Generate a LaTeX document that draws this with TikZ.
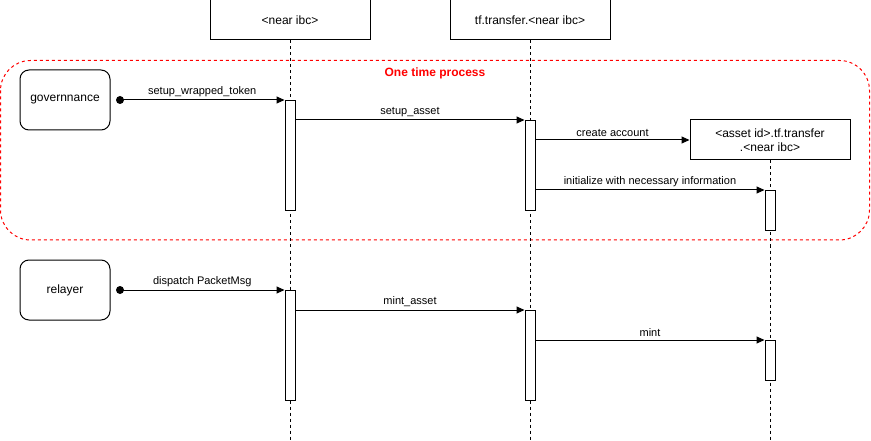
\documentclass[tikz,border=0pt]{standalone}
\usepackage{fontspec}
\setmainfont{Liberation Sans}
\usetikzlibrary{arrows.meta}
\begin{document}
\begin{tikzpicture}[x=1pt,y=-1pt,
  lifebox/.style={draw,line width=1pt,minimum width=160pt,minimum height=40pt,inner sep=0pt,font=\fontsize{12}{14}\selectfont,align=center,fill=white},
  actor/.style={draw,line width=1pt,rounded corners=9pt,minimum width=90pt,minimum height=60pt,inner sep=0pt,font=\fontsize{12}{14}\selectfont},
  bar/.style={draw,line width=1pt,fill=white,minimum width=10pt,inner sep=0pt,anchor=north},
  life/.style={line width=0.8pt,dash pattern=on 3pt off 3pt},
  msg/.style={line width=1pt,-{Triangle[length=8pt,width=7pt]}},
  lbl/.style={font=\fontsize{11}{13}\selectfont,above,inner sep=2.5pt},
  startdot/.style={circle,fill=black,minimum size=8pt,inner sep=0pt}]
\useasboundingbox (0,0) rectangle (871,441);
% group frame
\draw[red,line width=1pt,dash pattern=on 3pt off 3pt,rounded corners=30pt] (0.5,60.5) rectangle (869.5,240);
\node[red,font=\bfseries\fontsize{12}{14}\selectfont] (title) at (435,73.5) {One time process};
% lifeline heads
\node[lifebox] (nib) at (290,20) {<near ibc>};
\node[lifebox] (tft) at (530,20) {tf.transfer.<near ibc>};
\node[lifebox] (aid) at (770,140) {<asset id>.tf.transfer\\.<near ibc>};
\coordinate (nibend) at (290,441);
\coordinate (tftend) at (530,441);
\coordinate (aidend) at (770,441);
\draw[life] (nib.south) -- (nibend);
\draw[life] (tft.south) -- (tftend);
\draw[life] (aid.south) -- (aidend);
% actors
\node[actor] (gov) at (65,100) {governnance};
\node[actor] (rel) at (65,290) {relayer};
% activation bars
\node[bar,minimum height=110pt] (a1) at (290,100) {};
\node[bar,minimum height=90pt] (a2) at (530,120) {};
\node[bar,minimum height=40pt] (a3) at (770,190) {};
\node[bar,minimum height=110pt] (a4) at (290,290) {};
\node[bar,minimum height=90pt] (a5) at (530,310) {};
\node[bar,minimum height=40pt] (a6) at (770,340) {};
% start dots
\node[startdot] (d1) at (120,100) {};
\node[startdot] (d2) at (120,290) {};
% messages
\draw[msg] (d1.center) -- node[lbl]{setup\_wrapped\_token} (a1.north west);
\draw[msg] (a1.east |- a2.north west) -- node[lbl]{setup\_asset} (a2.north west);
\draw[msg] (a2.east |- aid.west) -- node[lbl]{create account} (aid.west);
\draw[msg] (a2.east |- a3.north west) -- node[lbl]{initialize with necessary information} (a3.north west);
\draw[msg] (d2.center) -- node[lbl]{dispatch PacketMsg} (a4.north west);
\draw[msg] (a4.east |- a5.north west) -- node[lbl]{mint\_asset} (a5.north west);
\draw[msg] (a5.east |- a6.north west) -- node[lbl]{mint} (a6.north west);
\end{tikzpicture}
\end{document}
